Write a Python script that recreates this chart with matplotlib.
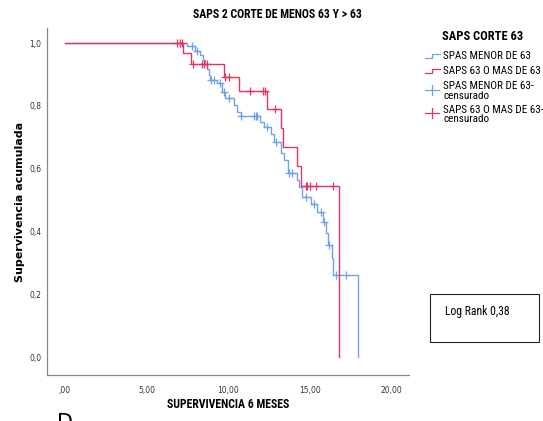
import numpy as np
import matplotlib
matplotlib.use("Agg")
import matplotlib.pyplot as plt
from matplotlib.lines import Line2D
from matplotlib.patches import Rectangle
from matplotlib import font_manager

# ---------------- data ----------------
title = "SAPS 2 CORTE DE MENOS 63 Y > 63"
xlabel = "SUPERVIVENCIA 6 MESES"
ylabel = "Supervivencia acumulada"
legend_title = "SAPS CORTE 63"
legend_labels = ["SPAS MENOR DE 63", "SAPS 63 O MAS DE 63",
                 "SPAS MENOR DE 63-\ncensurado", "SAPS 63 O MAS DE 63-\ncensurado"]
logrank_text = "Log Rank 0,38"

xticks = [0, 5, 10, 15, 20]
xtick_labels = [",00", "5,00", "10,00", "15,00", "20,00"]
yticks = [0.0, 0.2, 0.4, 0.6, 0.8, 1.0]
ytick_labels = ["0,0", "0,2", "0,4", "0,6", "0,8", "1,0"]

# group 1: SPAS MENOR DE 63 (blue) -- event times and survival after each step
blue_times = [7.46, 7.98, 8.24, 8.43, 8.55, 8.69, 8.80, 8.86, 9.30, 9.61, 9.82,
              10.33, 10.53, 10.74, 11.92, 12.17, 12.58, 12.78, 13.19, 13.39, 13.64,
              14.21, 14.31, 14.52, 15.03, 15.44, 15.80, 16.00, 16.09, 16.32, 16.42, 17.93]
blue_surv = [0.990, 0.975, 0.962, 0.946, 0.933, 0.919, 0.898, 0.884, 0.872, 0.845, 0.824,
             0.803, 0.781, 0.768, 0.749, 0.733, 0.712, 0.686, 0.649, 0.627, 0.587,
             0.564, 0.542, 0.511, 0.489, 0.463, 0.431, 0.394, 0.357, 0.314, 0.261, 0.0]
blue_censor = [7.77, 8.07, 8.94, 9.10, 9.47, 9.71, 10.06, 10.80, 11.55, 11.66, 11.76,
               12.37, 12.94, 13.70, 13.91, 14.72, 15.23, 15.64, 15.85, 16.15, 16.56, 17.18]

# group 2: SAPS 63 O MAS DE 63 (red)
red_times = [7.24, 7.71, 9.75, 10.67, 12.37, 13.19, 13.31, 14.21, 14.42, 16.75]
red_surv = [0.967, 0.933, 0.893, 0.848, 0.790, 0.730, 0.668, 0.609, 0.545, 0.0]
red_censor = [6.85, 7.01, 7.16, 7.85, 8.40, 8.50, 8.71, 9.79, 10.02, 11.33,
              12.13, 12.21, 12.88, 14.72, 14.83, 14.97, 15.34, 16.40]

BLUE = "#6fa3e6"
RED = "#e3345f"


def pick(fams):
    avail = {f.name for f in font_manager.fontManager.ttflist}
    for f in fams:
        if f in avail:
            return f
    return "DejaVu Sans"


NARROW = pick(["Liberation Sans Narrow", "DejaVu Sans Condensed", "Roboto Condensed", "Liberation Sans"])


def km_xy(times, surv):
    xs = [0.0]
    ys = [1.0]
    s = 1.0
    for t, v in zip(times, surv):
        xs += [t, t]
        ys += [s, v]
        s = v
    return np.array(xs), np.array(ys)


def surv_at(times, surv, t):
    s = 1.0
    for tt, v in zip(times, surv):
        if tt <= t:
            s = v
    return s


W, H = 543, 421
fig = plt.figure(figsize=(W / 100, H / 100), dpi=100)
ax = fig.add_axes([47 / W, 1 - 375 / H, (409 - 47) / W, (375 - 28) / H])

for times, surv, cens, col in [(blue_times, blue_surv, blue_censor, BLUE),
                               (red_times, red_surv, red_censor, RED)]:
    xs, ys = km_xy(times, surv)
    ax.plot(xs, ys, color=col, lw=1.0, solid_joinstyle="miter")
    cy = [surv_at(times, surv, t) for t in cens]
    ax.plot(cens, cy, linestyle="none", marker="+", color=col, ms=6, mew=0.9)

ax.set_xlim(-1.1, 21.05)
ax.set_ylim(-0.057, 1.048)
ax.set_xticks(xticks)
ax.set_xticklabels(xtick_labels)
ax.set_yticks(yticks)
ax.set_yticklabels(ytick_labels)
ax.tick_params(length=0, labelsize=5.5, colors="#333333")
ax.tick_params(axis="x", pad=8)
ax.tick_params(axis="y", pad=4)
for sp in ["top", "right"]:
    ax.spines[sp].set_visible(False)
for sp in ["left", "bottom"]:
    ax.spines[sp].set_color("#888888")
    ax.spines[sp].set_linewidth(0.9)

fig.text(277 / W, 1 - 15 / H, title, ha="center", va="center", fontsize=8.5,
         fontweight="bold", family=NARROW)
fig.text(228 / W, 1 - 404 / H, xlabel, ha="center", va="center", fontsize=8.5,
         fontweight="bold", family=NARROW)
fig.text(20 / W, 1 - 202 / H, ylabel, ha="center", va="center", rotation=90,
         fontsize=8, fontweight="bold", family="DejaVu Sans")
fig.text(57 / W, 1 - 413 / H, "D", ha="left", va="top", fontsize=15,
         family="DejaVu Sans")

# legend (manual)
fig.text(483 / W, 1 - 37 / H, legend_title, ha="center", va="center", fontsize=9,
         fontweight="bold", family=NARROW)


def fx(px):
    return px / W


def fy(py):
    return 1 - py / H


def step_icon(y, col):
    xs = [425, 432, 432, 440]
    ys = [y + 2, y + 2, y - 2, y - 2]
    fig.add_artist(Line2D([fx(x) for x in xs], [fy(v) for v in ys], color=col, lw=0.9))


def plus_icon(y, col):
    fig.add_artist(Line2D([fx(425), fx(439)], [fy(y), fy(y)], color=col, lw=0.9))
    fig.add_artist(Line2D([fx(432), fx(432)], [fy(y - 5), fy(y + 5)], color=col, lw=0.9))


step_icon(56, BLUE)
step_icon(71, RED)
plus_icon(90, BLUE)
plus_icon(113, RED)
ys_text = [56, 71, 91, 114.5]
for lab, y in zip(legend_labels, ys_text):
    fig.text(443 / W, 1 - y / H, lab, ha="left", va="center", fontsize=8,
             family=NARROW, linespacing=0.95)

fig.add_artist(Rectangle((430 / W, 1 - 342 / H), (539 - 430) / W, (342 - 294) / H,
                         transform=fig.transFigure, fill=False, lw=0.8, ec="#222222"))
fig.text(445 / W, 1 - 312 / H, logrank_text, ha="left", va="center", fontsize=8.5,
         family=NARROW)

fig.savefig("out.png", dpi=100)
